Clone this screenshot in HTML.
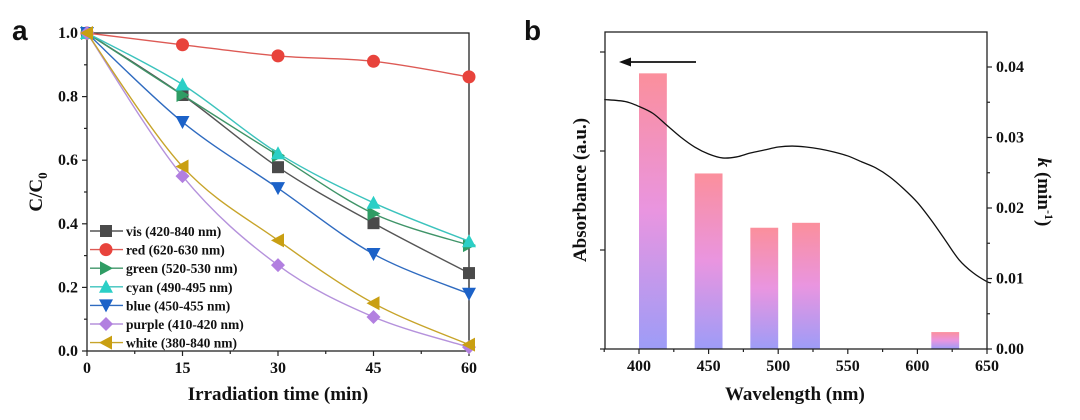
<!DOCTYPE html>
<html><head><meta charset="utf-8">
<style>
html,body{margin:0;padding:0;background:#fff;}
svg{display:block;}
text{font-family:"Liberation Serif",serif;font-weight:bold;fill:#111;}
.lab{font-family:"Liberation Sans",sans-serif;}
</style></head>
<body>
<svg id="fig" width="1080" height="420" viewBox="0 0 1080 420" xmlns="http://www.w3.org/2000/svg">
<defs>
<linearGradient id="barGrad" x1="0" y1="0" x2="0" y2="1">
<stop offset="0" stop-color="#fb8f9c"/><stop offset="0.5" stop-color="#e995e0"/><stop offset="1" stop-color="#9d9cf7"/>
</linearGradient>
</defs>
<g id="pa"></g>
<g id="pb"></g>
</svg>
<script>
// ---- Panel a data ----
const timesA = [0, 15, 30, 45, 60];
const seriesNames = ["vis (420-840 nm)","red (620-630 nm)","green (520-530 nm)","cyan (490-495 nm)","blue (450-455 nm)","purple (410-420 nm)","white (380-840 nm)"];
const visVals = [1, 0.805, 0.578, 0.402, 0.245];
const redVals = [1, 0.963, 0.928, 0.911, 0.862];
const greenVals = [1, 0.805, 0.615, 0.432, 0.333];
const cyanVals = [1, 0.838, 0.622, 0.466, 0.345];
const blueVals = [1, 0.72, 0.512, 0.305, 0.18];
const purpleVals = [1, 0.55, 0.27, 0.107, 0.012];
const whiteVals = [1, 0.58, 0.348, 0.15, 0.02];
const xTicksA = [0, 15, 30, 45, 60];
const yTicksA = ["0.0","0.2","0.4","0.6","0.8","1.0"];
// ---- Panel b data ----
const barLo = [400, 440, 480, 510, 610];
const barHi = [420, 460, 500, 530, 630];
const kVals = [0.0391, 0.0249, 0.0172, 0.0179, 0.0024];
const absWl = [375,390,400,410,420,430,440,450,460,470,480,490,500,510,520,530,540,550,560,570,580,590,600,610,620,630,640,650,653];
const absVals = [2.52,2.50,2.45,2.38,2.26,2.14,2.04,1.97,1.93,1.94,1.98,2.01,2.04,2.05,2.04,2.02,1.99,1.95,1.89,1.83,1.74,1.62,1.48,1.30,1.10,0.90,0.77,0.68,0.67];
const xTicksB = [400, 450, 500, 550, 600, 650];
const kTicks = ["0.00","0.01","0.02","0.03","0.04"];

const NS = "http://www.w3.org/2000/svg";
function mk(parent, tag, attrs, txt){const e=document.createElementNS(NS,tag);for(const k in attrs)e.setAttribute(k,attrs[k]);if(txt!==undefined)e.textContent=txt;parent.appendChild(e);return e;}
function smooth(pts){let d="M"+pts[0][0]+","+pts[0][1];for(let i=0;i<pts.length-1;i++){const p0=pts[Math.max(0,i-1)],p1=pts[i],p2=pts[i+1],p3=pts[Math.min(pts.length-1,i+2)];const c1=[p1[0]+(p2[0]-p0[0])/6,p1[1]+(p2[1]-p0[1])/6];const c2=[p2[0]-(p3[0]-p1[0])/6,p2[1]-(p3[1]-p1[1])/6];d+=" C"+c1+" "+c2+" "+p2;}return d;}

// ===== Panel a =====
const A=document.getElementById("pa");
const ax0=87, ax1=469, ay0=351, ay1=33;
const xA=t=>ax0+(t-0)/60*(ax1-ax0);
const yA=v=>ay0-v*(ay0-ay1);
let e;
e=mk(A,"text",{x:12,y:40,"font-size":28,class:"lab"},"a");


e=mk(A,"rect",{x:ax0,y:ay1,width:ax1-ax0,height:ay0-ay1,fill:"none",stroke:"#222","stroke-width":1.3});


for(let i=0;i<=8;i++){const x=xA(i*7.5);mk(A,"line",{x1:x,y1:ay0,x2:x,y2:ay0+(i%2?3:5),stroke:"#222","stroke-width":1.2});}
xTicksA.forEach(t=>{e=mk(A,"text",{x:xA(t),y:ay0+22,"font-size":16,"text-anchor":"middle"},t);

});
for(let i=0;i<=10;i++){const y=yA(i*0.1);mk(A,"line",{x1:ax0,y1:y,x2:ax0-(i%2?3:5),y2:y,stroke:"#222","stroke-width":1.2});}
yTicksA.forEach(s=>{e=mk(A,"text",{x:ax0-9,y:yA(parseFloat(s))+5,"font-size":16,"text-anchor":"end"},s);

});
e=mk(A,"text",{x:xA(30),y:400,"font-size":19,"text-anchor":"middle"},"Irradiation time (min)");


e=mk(A,"text",{transform:"translate(42,192) rotate(-90)","font-size":19,"text-anchor":"middle"});
e.innerHTML='C/C<tspan font-size="13" dy="5">0</tspan>';



const allVals=[visVals,redVals,greenVals,cyanVals,blueVals,purpleVals,whiteVals];
const lineCols=["#555555","#dd5a55","#3f9468","#3cc3bd","#2f6bc0","#b592dc","#c7a42a"];
const markCols=["#4a4a4a","#e8433c","#2f9c64","#2bcfc6","#1c62c8","#b27fe0","#c99f12"];
const shapes=["square","circle","right","up","down","diamond","left"];
function marker(g,shape,x,y,col){const s=6;let el;
 if(shape==="square")el=mk(g,"rect",{x:x-s,y:y-s,width:2*s,height:2*s,fill:col});
 else if(shape==="circle")el=mk(g,"circle",{cx:x,cy:y,r:s+0.5,fill:col});
 else{let p;if(shape==="up")p=[[x,y-s-1],[x+s+1,y+s],[x-s-1,y+s]];else if(shape==="down")p=[[x,y+s+1],[x+s+1,y-s],[x-s-1,y-s]];else if(shape==="right")p=[[x+s+1,y],[x-s,y-s-1],[x-s,y+s+1]];else if(shape==="left")p=[[x-s-1,y],[x+s,y-s-1],[x+s,y+s+1]];else p=[[x,y-s-1],[x+s+1,y],[x,y+s+1],[x-s-1,y]];el=mk(g,"polygon",{points:p.map(q=>q.join(",")).join(" "),fill:col});}
 return el;}
allVals.forEach((vals,si)=>{
 const g=mk(A,"g",{});
 
 
 const pts=vals.map((v,i)=>[xA(timesA[i]),yA(v)]);
 e=mk(g,"path",{d:smooth(pts),fill:"none",stroke:lineCols[si],"stroke-width":1.4});
 
 
 pts.forEach(p=>{e=marker(g,shapes[si],p[0],p[1],markCols[si]);
 
 });
});
// legend
const lg=mk(A,"g",{});


seriesNames.forEach((n,i)=>{const y=231+i*18.6;
 const g=mk(lg,"g",{});
 
 
 mk(g,"line",{x1:90,y1:y,x2:123,y2:y,stroke:lineCols[i],"stroke-width":1.4});
 marker(g,shapes[i],106,y,markCols[i]);
 mk(g,"text",{x:126,y:y+5,"font-size":13.5},n);});

// ===== Panel b =====
const B=document.getElementById("pb");
const bx0=605, bx1=987, by0=349, by1=32;
const xB=w=>639+(w-400)*(987-639)/250;
const yK=k=>by0-k/0.01*70.5;
const yAbs=a=>by0-a*99;
e=mk(B,"text",{x:524,y:40,"font-size":28,class:"lab"},"b");


kVals.forEach((k,i)=>{e=mk(B,"rect",{x:xB(barLo[i]),y:yK(k),width:xB(barHi[i])-xB(barLo[i]),height:by0-yK(k),fill:"url(#barGrad)"});

});
e=mk(B,"path",{d:smooth(absWl.map((w,i)=>[xB(w),yAbs(absVals[i])])),fill:"none",stroke:"#111","stroke-width":1.3});


e=mk(B,"rect",{x:bx0,y:by1,width:bx1-bx0,height:by0-by1,fill:"none",stroke:"#222","stroke-width":1.3});


for(let w=375;w<=650;w+=25){const x=xB(w);mk(B,"line",{x1:x,y1:by0,x2:x,y2:by0+(w%50?3:5),stroke:"#222","stroke-width":1.2});}
xTicksB.forEach(w=>{e=mk(B,"text",{x:xB(w),y:by0+22,"font-size":16,"text-anchor":"middle"},w);

});
for(let a=0;a<=3;a++){const y=yAbs(a);mk(B,"line",{x1:bx0,y1:y,x2:bx0-5,y2:y,stroke:"#222","stroke-width":1.2});}
for(let i=0;i<=8;i++){const y=yK(i*0.005);mk(B,"line",{x1:bx1,y1:y,x2:bx1+(i%2?3:5),y2:y,stroke:"#222","stroke-width":1.2});}
kTicks.forEach(s=>{e=mk(B,"text",{x:bx1+9,y:yK(parseFloat(s))+5,"font-size":16},s);

});
e=mk(B,"text",{x:xB(512),y:400,"font-size":19,"text-anchor":"middle"},"Wavelength (nm)");


e=mk(B,"text",{transform:"translate(586,190) rotate(-90)","font-size":19,"text-anchor":"middle"},"Absorbance (a.u.)");


e=mk(B,"text",{transform:"translate(1038,192) rotate(90)","font-size":19,"text-anchor":"middle"});
e.innerHTML='<tspan font-style="italic">k</tspan> (min<tspan font-size="12" dy="-7">-1</tspan><tspan dy="7">)</tspan>';


const ar=mk(B,"g",{});


mk(ar,"line",{x1:696,y1:62,x2:628,y2:62,stroke:"#111","stroke-width":1.8});
mk(ar,"polygon",{points:"619,62 631,57.5 631,66.5",fill:"#111"});
</script>
</body></html>
